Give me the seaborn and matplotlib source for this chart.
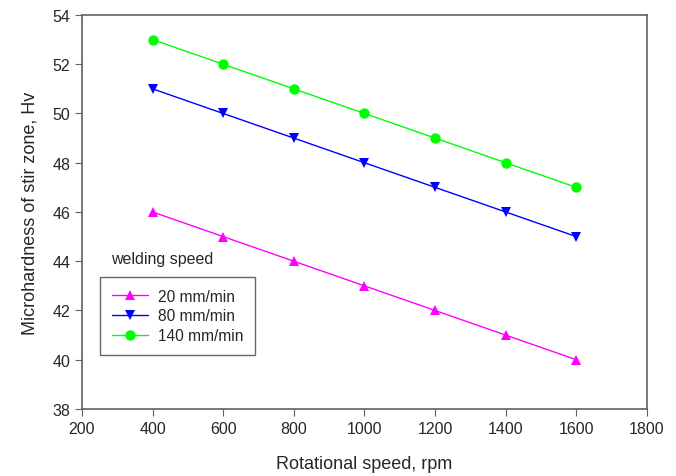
import numpy as np
import pandas as pd
import seaborn as sns
import matplotlib.pyplot as plt

rpm = [400, 600, 800, 1000, 1200, 1400, 1600]
hv_20 = [46, 45, 44, 43, 42, 41, 40]
hv_80 = [51, 50, 49, 48, 47, 46, 45]
hv_140 = [53, 52, 51, 50, 49, 48, 47]
series_names = ["20 mm/min", "80 mm/min", "140 mm/min"]

df = pd.DataFrame({
    "rpm": rpm * 3,
    "hv": hv_20 + hv_80 + hv_140,
    "speed": np.repeat(series_names, len(rpm)),
})

sns.set_style("ticks")
plt.rcParams['font.family'] = ['Liberation Sans', 'DejaVu Sans']

fig = plt.figure(figsize=(6.76, 4.77), dpi=100)
ax = fig.add_axes([0.1213, 0.1405, 0.8357, 0.826])

palette = {"20 mm/min": "#ff00ff", "80 mm/min": "#0000ff", "140 mm/min": "#00ff00"}
markers = {"20 mm/min": "^", "80 mm/min": "v", "140 mm/min": "o"}
sns.lineplot(data=df, x="rpm", y="hv", hue="speed", style="speed",
             palette=palette, markers=markers, dashes=False,
             markersize=7.5, markeredgewidth=0, linewidth=1, ax=ax)

ax.set_xlim(200, 1800)
ax.set_ylim(38, 54)
ax.set_xticks(range(200, 1801, 200))
ax.set_yticks(range(38, 55, 2))
ax.tick_params(direction='out', length=5, color='#606060', labelsize=11.5)
for s in ax.spines.values():
    s.set_visible(True)
    s.set_color('#606060')
    s.set_linewidth(1.2)
ax.set_xlabel("Rotational speed, rpm", fontsize=13, labelpad=14)
ax.set_ylabel("Microhardness of stir zone, Hv", fontsize=13, labelpad=10)

leg = ax.legend(loc='upper left', bbox_to_anchor=(0.032, 0.335), fontsize=11.2,
                frameon=True, fancybox=False, handlelength=2.35,
                labelspacing=0.3, borderpad=0.75, handletextpad=0.6,
                borderaxespad=0)
leg.get_frame().set_edgecolor('#404040')
leg.get_frame().set_linewidth(1)
ax.text(0.051, 0.383, "welding speed", transform=ax.transAxes, fontsize=11.5,
        va='center', ha='left')

fig.savefig("out.png", dpi=100)
